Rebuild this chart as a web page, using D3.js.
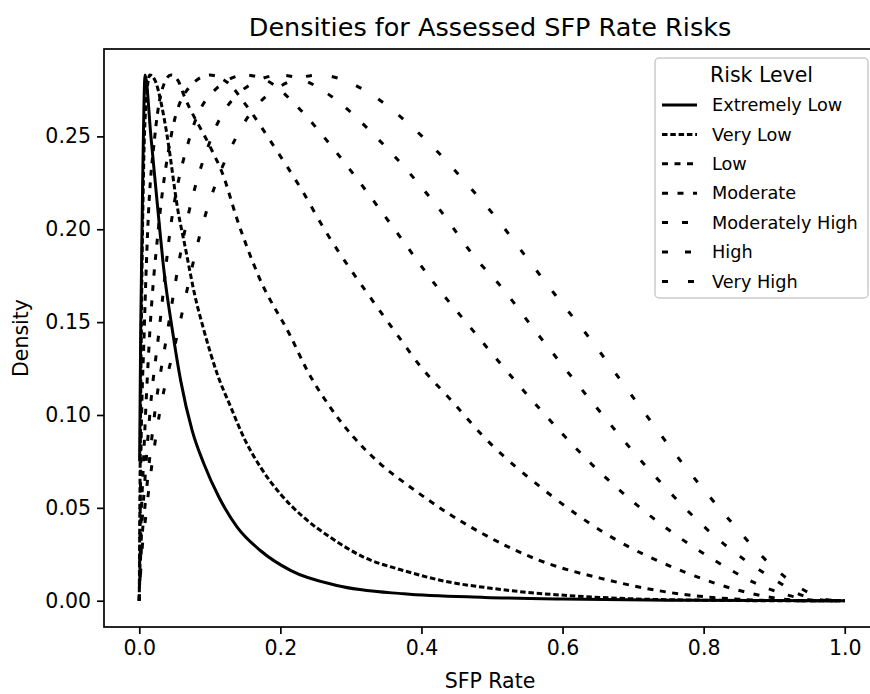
<!DOCTYPE html>
<html>
<head>
<meta charset="utf-8">
<script src="https://cdn.jsdelivr.net/npm/d3@7"></script>
<style>
  body { margin: 0; background: #fff; }
  svg { display: block; font-family: "DejaVu Sans", sans-serif; }
</style>
</head>
<body>
<svg id="chart" width="870" height="694"></svg>
<script>
// series: [SFP rate, density]
const extremelyLow = [[0.0005,0.075],[0.002,0.145],[0.005,0.23],[0.0082,0.283],[0.0165,0.25],[0.029,0.2],[0.034,0.181],[0.047,0.1455],[0.0587,0.1185],[0.075,0.0916],[0.0917,0.0736],[0.113,0.0557],[0.139,0.0395],[0.172,0.0269],[0.215,0.0162],[0.28,0.0082],[0.375,0.0037],[0.49,0.0018],[0.6,0.0009],[0.75,0.0003],[0.9,0.0001],[1.0,0]];
const veryLow = [[0,0],[0.001,0.06],[0.003,0.15],[0.006,0.23],[0.01,0.27],[0.015,0.283],[0.0225,0.28],[0.0317,0.2667],[0.0388,0.252],[0.0553,0.209],[0.0648,0.191],[0.079,0.164],[0.0917,0.1455],[0.1106,0.122],[0.13,0.104],[0.148,0.088],[0.172,0.0718],[0.2,0.0575],[0.233,0.0449],[0.271,0.0341],[0.319,0.0233],[0.375,0.0162],[0.441,0.0099],[0.489,0.0072],[0.55,0.0045],[0.62,0.0025],[0.7,0.001],[0.8,0.0003],[0.9,0],[1,0]];
const low = [[0,0],[0.002,0.07],[0.007,0.145],[0.012,0.2],[0.022,0.25],[0.033,0.276],[0.045,0.283],[0.055,0.28],[0.0634,0.272],[0.101,0.244],[0.118,0.23],[0.139,0.205],[0.17,0.174],[0.215,0.142],[0.238,0.124],[0.271,0.104],[0.304,0.088],[0.342,0.0736],[0.385,0.061],[0.432,0.0485],[0.479,0.0377],[0.568,0.0216],[0.658,0.0117],[0.767,0.0036],[0.85,0.0008],[0.9,0.0001],[1,0]];
const moderate = [[0,0],[0.002,0.035],[0.006,0.075],[0.015,0.145],[0.027,0.2],[0.045,0.25],[0.07,0.276],[0.1,0.283],[0.125,0.279],[0.153,0.266],[0.192,0.244],[0.229,0.222],[0.264,0.199],[0.328,0.163],[0.366,0.143],[0.399,0.126],[0.442,0.108],[0.489,0.088],[0.578,0.0584],[0.67,0.0341],[0.774,0.0153],[0.861,0.0045],[0.91,0.001],[0.95,0],[1,0]];
const moderatelyHigh = [[0,0],[0.002,0.025],[0.008,0.065],[0.016,0.105],[0.028,0.145],[0.044,0.2],[0.072,0.25],[0.11,0.276],[0.15,0.283],[0.19,0.278],[0.219,0.268],[0.274,0.244],[0.307,0.228],[0.356,0.203],[0.422,0.169],[0.474,0.145],[0.4925,0.1365],[0.566,0.104],[0.641,0.0736],[0.724,0.0458],[0.816,0.0216],[0.887,0.0072],[0.93,0.002],[0.96,0.0002],[1,0]];
const high = [[0,0],[0.002,0.02],[0.01,0.058],[0.02,0.095],[0.04,0.145],[0.065,0.2],[0.103,0.25],[0.15,0.276],[0.2,0.283],[0.235,0.28],[0.267,0.273],[0.34,0.248],[0.425,0.211],[0.482,0.182],[0.504,0.173],[0.566,0.143],[0.646,0.105],[0.731,0.067],[0.821,0.033],[0.899,0.0117],[0.941,0.0027],[0.97,0.0003],[1,0]];
const veryHigh = [[0,0],[0.002,0.016],[0.01,0.048],[0.025,0.092],[0.055,0.145],[0.088,0.2],[0.138,0.25],[0.2,0.277],[0.255,0.283],[0.285,0.281],[0.314,0.276],[0.401,0.25],[0.477,0.219],[0.502,0.208],[0.5445,0.187],[0.589,0.165],[0.637,0.142],[0.703,0.108],[0.769,0.0745],[0.84,0.042],[0.889,0.0216],[0.948,0.0045],[0.975,0.0005],[1,0]];

const riskLevels = ["Extremely Low", "Very Low", "Low", "Moderate", "Moderately High", "High", "Very High"];
const seriesData = [extremelyLow, veryLow, low, moderate, moderatelyHigh, high, veryHigh];
const xTicks = [0, 0.2, 0.4, 0.6, 0.8, 1.0];
const yTicks = [0, 0.05, 0.10, 0.15, 0.20, 0.25];

// dash pattern per risk level (px)
const dashes = [null, "5.5,2.8", "6,6.5", "6,9.5", "6,14", "6,17", "6,20"];

const svg = d3.select("#chart");
const plot = { left: 104, right: 880, top: 49, bottom: 627 };

const x = d3.scaleLinear().domain([-0.05, 1.05]).range([plot.left, plot.right]);
const y = d3.scaleLinear().domain([-0.01415, 0.29705]).range([plot.bottom, plot.top]);

svg.append("text")
  .attr("x", (plot.left + plot.right) / 2 - 2)
  .attr("y", 36)
  .attr("text-anchor", "middle")
  .style("font-size", "25.5px")
  .text("Densities for Assessed SFP Rate Risks");

const line = d3.line()
  .x(d => x(d[0]))
  .y(d => y(d[1]))
  .curve(d3.curveMonotoneX);

svg.append("g")
  .selectAll("path")
  .data(seriesData)
  .join("path")
  .attr("d", line)
  .attr("fill", "none")
  .attr("stroke", "#000")
  .attr("stroke-width", 3)
  .attr("stroke-dasharray", (d, i) => dashes[i]);

// axes
const xAxis = svg.append("g")
  .attr("transform", `translate(0,${plot.bottom})`)
  .call(d3.axisBottom(x).tickValues(xTicks).tickFormat(d3.format(".1f")).tickSize(7).tickPadding(4));
const yAxis = svg.append("g")
  .attr("transform", `translate(${plot.left},0)`)
  .call(d3.axisLeft(y).tickValues(yTicks).tickFormat(d3.format(".2f")).tickSize(7).tickPadding(6));

[xAxis, yAxis].forEach(g => {
  g.select(".domain").remove();
  g.selectAll("line").attr("stroke", "#000").attr("stroke-width", 1.7);
  g.selectAll("text").attr("fill", "#000").style("font-size", "20.5px").style("font-family", "DejaVu Sans");
});
xAxis.selectAll("text").attr("dy", "0.85em");

svg.append("rect")
  .attr("x", plot.left).attr("y", plot.top)
  .attr("width", plot.right - plot.left).attr("height", plot.bottom - plot.top)
  .attr("fill", "none").attr("stroke", "#000").attr("stroke-width", 1.7);

svg.append("text")
  .attr("x", (plot.left + plot.right) / 2 - 2)
  .attr("y", 688)
  .attr("text-anchor", "middle")
  .style("font-size", "20.5px")
  .text("SFP Rate");

svg.append("text")
  .attr("transform", `translate(21,${(plot.top + plot.bottom) / 2}) rotate(-90)`)
  .attr("text-anchor", "middle")
  .attr("dy", "0.35em")
  .style("font-size", "20.5px")
  .text("Density");

// legend
const legend = svg.append("g");
legend.append("rect")
  .attr("x", 655).attr("y", 58)
  .attr("width", 213).attr("height", 240)
  .attr("rx", 4)
  .attr("fill", "#fff").attr("fill-opacity", 0.8)
  .attr("stroke", "#ccc").attr("stroke-width", 1.5);

legend.append("text")
  .attr("x", 761.5).attr("y", 75)
  .attr("dy", "0.35em")
  .attr("text-anchor", "middle")
  .style("font-size", "20.5px")
  .text("Risk Level");

const item = legend.selectAll("g.item")
  .data(riskLevels)
  .join("g")
  .attr("class", "item")
  .attr("transform", (d, i) => `translate(0,${105 + i * 29.4})`);

item.append("line")
  .attr("x1", 662).attr("x2", 697)
  .attr("stroke", "#000")
  .attr("stroke-width", 3)
  .attr("stroke-dasharray", (d, i) => dashes[i]);

item.append("text")
  .attr("x", 712)
  .attr("dy", "0.35em")
  .style("font-size", "17.7px")
  .text(d => d);
</script>
</body>
</html>
